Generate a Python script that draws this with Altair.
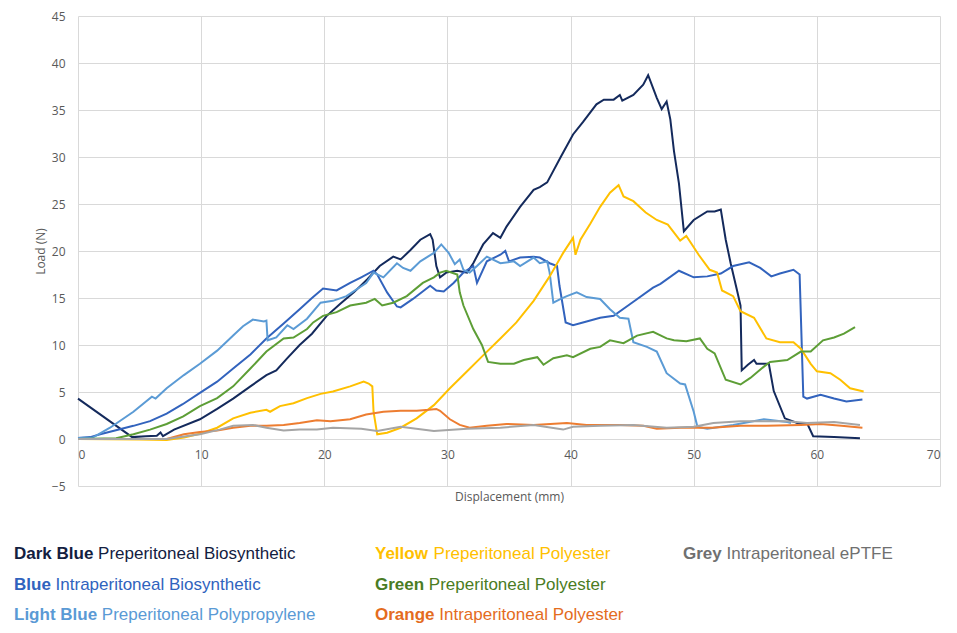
import altair as alt
import pandas as pd

# ---------------- data ----------------
series_names = ["Dark Blue", "Blue", "Light Blue", "Yellow", "Green", "Orange", "Grey"]
descriptions = [
    "Preperitoneal Biosynthetic",
    "Intraperitoneal Biosynthetic",
    "Preperitoneal Polypropylene",
    "Preperitoneal Polyester",
    "Preperitoneal Polyester",
    "Intraperitoneal Polyester",
    "Intraperitoneal ePTFE",
]
legend_col = [0, 0, 0, 1, 1, 1, 2]
legend_row = [0, 1, 2, 0, 1, 2, 0]

db_x = [0, 4.4, 5.5, 6.4, 6.7, 6.9, 7.8, 9.9, 11.3, 12.6, 14.0, 15.3, 16.1, 17.0, 18.0, 19.0, 20.2, 21.3,
        22.4, 23.5, 24.5, 25.6, 26.2, 27.0, 27.8, 28.6, 28.8, 29.1, 29.4, 29.9, 30.8, 31.6, 32.1, 32.9,
        33.7, 34.3, 34.8, 35.9, 37.0, 37.5, 38.1, 39.2, 40.2, 41.0, 42.1, 42.7, 43.5, 44.0, 44.2, 45.1,
        45.9, 46.3, 47.0, 47.4, 47.8, 48.1, 48.4, 48.8, 49.2, 50.0, 51.1, 51.7, 52.2, 52.6, 53.0, 53.5,
        53.8, 53.9, 54.4, 54.9, 55.1, 56.1, 56.5, 57.4, 58.4, 59.2, 59.7, 61.4, 63.5]
db_y = [4.3, 0.2, 0.3, 0.35, 0.7, 0.3, 1.0, 2.1, 3.2, 4.3, 5.6, 6.8, 7.3, 8.6, 10.0, 11.2, 13.1, 14.4,
        15.6, 17.0, 18.4, 19.4, 19.1, 20.1, 21.2, 21.8, 21.2, 18.4, 17.2, 17.7, 17.9, 17.7, 18.7, 20.7,
        21.9, 21.4, 22.6, 24.7, 26.5, 26.8, 27.3, 30.0, 32.4, 33.7, 35.6, 36.1, 36.1, 36.6, 36.0, 36.6,
        37.7, 38.7, 36.3, 35.1, 35.9, 34.0, 30.6, 27.2, 22.1, 23.3, 24.2, 24.2, 24.4, 21.2, 18.7, 15.9,
        14.2, 7.3, 7.9, 8.4, 8.0, 8.0, 5.1, 2.2, 1.7, 1.7, 0.3, 0.2, 0.07]

bl_x = [0, 1.0, 1.8, 3.0, 4.5, 5.85, 7.2, 8.5, 9.9, 11.3, 12.6, 14.0, 15.3, 16.7, 18.0, 19.0, 19.9,
        21.0, 22.1, 23.0, 24.0, 24.3, 25.1, 25.9, 26.2, 27.2, 28.6, 29.1, 29.7, 30.5, 31.3, 32.1, 32.4,
        33.2, 34.3, 34.7, 35.0, 35.9, 37.0, 37.5, 38.3, 38.9, 39.1, 39.6, 40.2, 41.3, 42.4, 43.5, 45.1,
        46.7, 47.3, 48.8, 50.0, 51.1, 52.2, 53.2, 54.5, 55.4, 56.3, 57.0, 58.1, 58.6, 58.9, 59.2, 60.3,
        61.4, 62.4, 63.7]
bl_y = [0.1, 0.2, 0.5, 0.9, 1.4, 1.9, 2.7, 3.7, 4.9, 6.1, 7.5, 9.0, 10.7, 12.3, 13.8, 15.0, 16.0,
        15.8, 16.6, 17.2, 17.9, 17.5, 15.6, 14.1, 14.0, 14.9, 16.3, 15.8, 15.7, 16.6, 17.7, 18.4, 16.6,
        18.9, 19.6, 20.0, 18.9, 19.3, 19.4, 19.3, 18.7, 18.4, 16.3, 12.4, 12.1, 12.5, 12.9, 13.1, 14.6,
        16.1, 16.5, 17.9, 17.2, 17.3, 17.6, 18.4, 18.8, 18.2, 17.3, 17.6, 18.0, 17.5, 4.5, 4.3, 4.7,
        4.3, 4.0, 4.2]

lb_x = [0, 1.2, 2.6, 4.5, 6.0, 6.3, 7.2, 8.6, 9.9, 11.3, 12.6, 13.4, 14.2, 15.1, 15.3, 15.4, 16.1,
        17.0, 17.5, 18.6, 19.7, 20.7, 21.8, 23.4, 24.0, 24.8, 25.9, 26.4, 27.0, 27.8, 28.9, 29.5, 30.1,
        30.6, 31.0, 31.3, 31.8, 32.4, 33.2, 34.3, 35.4, 35.9, 37.0, 37.5, 38.1, 38.3, 38.6, 39.2, 39.7,
        40.5, 41.3, 42.4, 43.2, 44.0, 44.7, 45.1, 46.2, 47.0, 47.8, 48.9, 49.3, 50.0, 50.3, 51.1, 53.2,
        55.7, 57.6, 57.9]
lb_y = [0.1, 0.15, 1.2, 2.9, 4.5, 4.3, 5.4, 6.8, 8.0, 9.4, 11.0, 12.0, 12.7, 12.5, 12.6, 10.5, 10.8,
        12.1, 11.7, 12.8, 14.5, 14.7, 15.2, 16.6, 17.7, 17.2, 18.7, 18.2, 17.9, 18.9, 19.8, 20.7, 19.8,
        18.6, 19.1, 18.0, 17.7, 18.4, 19.4, 18.7, 18.9, 18.4, 19.3, 18.7, 18.9, 17.7, 14.5, 14.9, 15.2,
        15.6, 15.1, 14.9, 13.8, 12.9, 12.8, 10.3, 9.8, 9.3, 7.0, 5.9, 5.8, 2.9, 1.3, 1.1, 1.5,
        2.1, 1.8, 1.7]

ye_x = [0, 5.0, 7.2, 8.6, 9.9, 11.3, 12.6, 14.0, 15.3, 15.6, 16.4, 17.5, 18.6, 19.7, 20.7, 22.1, 23.2,
        23.6, 23.9, 24.0, 24.3, 25.1, 26.2, 27.5, 28.9, 30.2, 31.6, 32.9, 34.3, 35.6, 37.0, 38.3, 39.4,
        40.2, 40.4, 40.8, 41.6, 42.4, 43.2, 43.9, 44.3, 45.1, 46.1, 47.0, 47.9, 48.9, 49.4, 50.4, 51.3,
        51.9, 52.3, 53.2, 53.8, 54.9, 55.9, 57.0, 58.1, 58.7, 59.5, 60.0, 61.1, 61.9, 62.7, 63.8]
ye_y = [0, -0.05, -0.1, 0.15, 0.56, 1.2, 2.2, 2.8, 3.1, 2.9, 3.5, 3.8, 4.35, 4.8, 5.05, 5.6, 6.1,
        5.9, 5.6, 2.9, 0.5, 0.67, 1.2, 2.2, 3.6, 5.4, 7.2, 8.9, 10.7, 12.4, 14.7, 17.3, 19.8,
        21.4, 19.6, 21.2, 22.9, 24.7, 26.2, 27.0, 25.8, 25.3, 24.1, 23.3, 22.8, 21.1, 21.6, 19.6, 18.0,
        17.7, 15.8, 15.2, 13.6, 12.9, 10.7, 10.3, 10.3, 9.6, 8.0, 7.2, 7.0, 6.3, 5.4, 5.05]

gr_x = [0, 3.1, 4.5, 5.85, 7.2, 8.55, 9.9, 11.3, 12.6, 14.0, 15.3, 16.7, 17.5, 18.6, 19.1, 19.9, 21.0,
        22.1, 23.4, 24.1, 24.7, 25.6, 26.7, 28.0, 28.9, 29.4, 29.9, 30.8, 31.0, 31.3, 32.1, 32.8, 33.3,
        34.3, 35.4, 36.2, 37.3, 37.8, 38.6, 39.7, 40.2, 41.6, 42.4, 43.2, 44.3, 45.4, 46.7, 47.8, 48.4,
        49.4, 50.5, 51.1, 51.7, 52.6, 53.8, 54.6, 55.7, 56.2, 57.6, 58.7, 59.5, 60.5, 61.4, 62.2, 63.1]
gr_y = [0, 0.07, 0.5, 1.0, 1.6, 2.4, 3.5, 4.35, 5.6, 7.5, 9.3, 10.7, 10.8, 11.7, 12.4, 13.1, 13.5,
        14.2, 14.5, 14.9, 14.2, 14.5, 15.2, 16.6, 17.2, 17.7, 17.9, 17.5, 15.6, 14.2, 11.7, 10.0, 8.2,
        8.0, 8.0, 8.4, 8.7, 7.9, 8.6, 8.9, 8.7, 9.6, 9.8, 10.5, 10.2, 11.0, 11.4, 10.7, 10.5,
        10.4, 10.7, 9.6, 9.1, 6.3, 5.8, 6.5, 7.7, 8.2, 8.4, 9.3, 9.3, 10.5, 10.8, 11.2, 11.9]

or_x = [0, 7.2, 8.6, 9.9, 11.3, 12.6, 14.0, 15.3, 16.7, 18.0, 19.4, 20.5, 22.1, 23.4, 24.8, 26.2, 27.5,
        28.5, 29.1, 29.4, 30.2, 31.0, 31.8, 33.2, 34.8, 37.0, 39.7, 41.3, 44.0, 45.9, 47.0, 48.9, 51.5,
        53.8, 55.9, 58.7, 60.3, 62.0, 63.7]
or_y = [0, 0.0, 0.5, 0.74, 0.9, 1.2, 1.4, 1.4, 1.5, 1.7, 2.0, 1.9, 2.1, 2.6, 2.9, 3.0, 3.0,
        3.1, 3.2, 3.0, 2.1, 1.5, 1.2, 1.4, 1.6, 1.5, 1.7, 1.5, 1.5, 1.4, 1.1, 1.2, 1.2,
        1.4, 1.4, 1.5, 1.6, 1.4, 1.2]

gy_x = [0, 7.2, 9.9, 11.5, 12.6, 14.2, 15.3, 16.7, 18.0, 19.4, 20.7, 23.0, 24.3, 26.2, 28.9, 31.6, 34.3,
        37.0, 39.4, 40.2, 42.4, 45.1, 47.8, 50.0, 51.6, 53.8, 55.9, 57.6, 59.2, 61.4, 63.5]
gy_y = [0, 0, 0.5, 1.0, 1.4, 1.5, 1.2, 0.9, 1.0, 1.0, 1.2, 1.1, 0.84, 1.3, 0.84, 1.1, 1.2,
        1.5, 1.0, 1.3, 1.4, 1.5, 1.2, 1.3, 1.7, 1.9, 1.9, 1.9, 1.7, 1.8, 1.5]

# ---------------- styles ----------------
line_colors = ["#142a5c", "#3263bd", "#5b9bd5", "#ffc000", "#5d9e36", "#ed7d31", "#a5a5a5"]
text_colors = ["#13203f", "#3063be", "#5a9ad5", "#ffc000", "#4a7c23", "#e46c1e", "#707070"]
grid_color = "#d9d9d9"
axis_text = "#595959"
LEGEND_FONT = "Liberation Sans"
LEGEND_SIZE = 17
PLOT_W, PLOT_H = 862, 470
# Arial/Liberation Sans Bold advance widths (per 1000 em) to place the regular text
BOLD_W = {"D": 722, "a": 556, "r": 389, "k": 556, " ": 278, "B": 722, "l": 278, "u": 611, "e": 556,
          "L": 611, "i": 278, "g": 611, "h": 611, "t": 333, "Y": 667, "o": 611, "w": 778, "G": 778,
          "n": 611, "O": 778, "y": 556}


def bold_width(s):
    return sum(BOLD_W.get(c, 600) for c in s + " ") * LEGEND_SIZE / 1000.0


# ---------------- build table ----------------
xs_all = [db_x, bl_x, lb_x, ye_x, gr_x, or_x, gy_x]
ys_all = [db_y, bl_y, lb_y, ye_y, gr_y, or_y, gy_y]
rows = []
for name, xs, ys in zip(series_names, xs_all, ys_all):
    assert len(xs) == len(ys), name
    for i, (a, b) in enumerate(zip(xs, ys)):
        rows.append({"series": name, "x": a, "y": b, "i": i})
df = pd.DataFrame(rows)

legend_df = pd.DataFrame({"bold": series_names, "rest": descriptions,
                          "col": legend_col, "row": legend_row})

zero_offset = -PLOT_H * 5 / 50.0  # put the x axis labels on the y = 0 line

lines = alt.Chart(df).mark_line(strokeWidth=2).encode(
    x=alt.X("x:Q", scale=alt.Scale(domain=[0, 70], nice=False),
            axis=alt.Axis(values=list(range(0, 71, 10)), title="Displacement (mm)",
                          grid=True, gridColor=grid_color, domain=False, ticks=False,
                          labelPadding=10, offset=zero_offset, titleY=52)),
    y=alt.Y("y:Q", scale=alt.Scale(domain=[-5, 45], nice=False),
            axis=alt.Axis(values=list(range(-5, 46, 5)), title="Load (N)",
                          grid=True, gridColor=grid_color, domain=False, ticks=False,
                          labelPadding=13, titleX=-38, titleBaseline="middle")),
    color=alt.Color("series:N", scale=alt.Scale(domain=series_names, range=line_colors), legend=None),
    order=alt.Order("i:Q"),
)

leg_x = alt.X("col:Q", scale=alt.Scale(domain=[0, 1, 2], range=[-64, 297, 605]), axis=None)
leg_y = alt.Y("row:Q", scale=alt.Scale(domain=[0, 1, 2], range=[538, 569, 599]), axis=None)
leg_color = alt.Color("bold:N", scale=alt.Scale(domain=series_names, range=text_colors), legend=None)

bold_layer = alt.Chart(legend_df).mark_text(
    align="left", baseline="middle", font=LEGEND_FONT, fontSize=LEGEND_SIZE, fontWeight="bold"
).encode(x=leg_x, y=leg_y, text="bold:N", color=leg_color)

rest_layers = []
for name in series_names:
    rest_layers.append(
        alt.Chart(legend_df).transform_filter(alt.datum.bold == name).mark_text(
            align="left", baseline="middle", font=LEGEND_FONT, fontSize=LEGEND_SIZE,
            dx=bold_width(name)
        ).encode(x=leg_x, y=leg_y, text="rest:N", color=leg_color)
    )

chart = alt.layer(lines, bold_layer, *rest_layers).resolve_scale(
    x="independent", y="independent", color="independent"
).properties(
    width=PLOT_W, height=PLOT_H,
    autosize=alt.AutoSizeParams(type="none"),
    padding={"left": 70, "top": 8, "right": 9, "bottom": 139},
).configure_view(stroke=None).configure_axis(
    labelFont="Open Sans", labelFontSize=12, labelColor=axis_text,
    titleFont="Open Sans", titleFontSize=12, titleColor=axis_text, titleFontWeight="normal",
)

chart.save("out.html", embed_options={"renderer": "svg", "actions": False})
